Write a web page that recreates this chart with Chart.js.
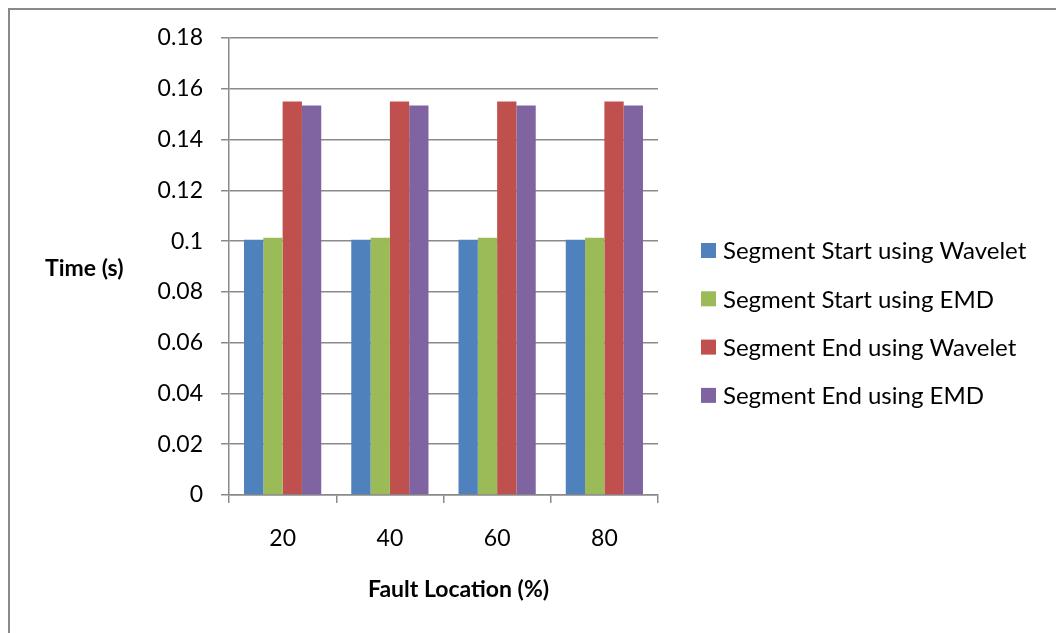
<!DOCTYPE html>
<html>
<head>
<meta charset="utf-8">
<script src="https://cdn.jsdelivr.net/npm/chart.js@4/dist/chart.umd.min.js"></script>
<style>
  html, body { margin: 0; padding: 0; background: #fff; overflow: hidden; }
  #wrap { position: relative; width: 1056px; height: 633px; }
  #frame { position: absolute; left: 8px; top: 8px; width: 1200px; height: 800px;
           border: 2px solid #898989; box-sizing: border-box; pointer-events: none; }
  canvas { position: absolute; left: 0; top: 0; }
</style>
</head>
<body>
<div id="wrap">
  <canvas id="c" width="1056" height="633"></canvas>
  <div id="frame"></div>
</div>
<script>
// Fault location categories (%)
const categories = ['20', '40', '60', '80'];

// Detected segment times (s) per fault location
const startWavelet = [0.1005, 0.1005, 0.1005, 0.1005];
const startEMD     = [0.1013, 0.1013, 0.1013, 0.1013];
const endWavelet   = [0.155, 0.155, 0.155, 0.155];
const endEMD       = [0.1534, 0.1534, 0.1534, 0.1534];

const seriesNames = [
  'Segment Start using Wavelet',
  'Segment Start using EMD',
  'Segment End using Wavelet',
  'Segment End using EMD'
];
const seriesColors = ['#4F81BD', '#9BBB59', '#C0504D', '#8064A2'];

// Value axis labels, bottom to top
const yTickLabels = ['0', '0.02', '0.04', '0.06', '0.08', '0.1', '0.12', '0.14', '0.16', '0.18'];

const xTitle = 'Fault Location (%)';
const yTitle = 'Time (s)';

const FONT = 'Lato, "Liberation Sans", sans-serif';
const GRID = '#8a8a8a';

// Axis titles and the legend, drawn beside the plot area
const sideText = {
  id: 'sideText',
  afterDraw(chart) {
    const ctx = chart.ctx;
    const a = chart.chartArea;
    ctx.save();
    ctx.fillStyle = '#000';
    ctx.textBaseline = 'middle';

    ctx.font = 'bold 23px ' + FONT;
    ctx.textAlign = 'left';
    ctx.fillText(yTitle, 45, (a.top + a.bottom) / 2 + 2);
    ctx.textAlign = 'center';
    ctx.fillText(xTitle, (a.left + a.right) / 2 + 15, 590);

    ctx.font = '24px ' + FONT;
    ctx.textAlign = 'left';
    const lx = a.right + 43;
    chart.data.datasets.forEach((ds, i) => {
      const cy = 250.5 + i * 48.3;
      ctx.fillStyle = ds.backgroundColor;
      ctx.fillRect(lx, cy - 7.5, 15, 15);
      ctx.fillStyle = '#000';
      ctx.fillText(ds.label, lx + 22, cy + 1);
    });
    ctx.restore();
  }
};

const seriesData = [startWavelet, startEMD, endWavelet, endEMD];

new Chart(document.getElementById('c'), {
  type: 'bar',
  data: {
    labels: categories,
    datasets: seriesData.map((d, i) => ({
      label: seriesNames[i],
      data: d,
      backgroundColor: seriesColors[i],
      borderWidth: 0,
      categoryPercentage: 0.72,
      barPercentage: 1.0
    }))
  },
  options: {
    responsive: false,
    animation: false,
    devicePixelRatio: 1,
    layout: { padding: { left: 0, top: 38, right: 398, bottom: 0 } },
    plugins: {
      legend: { display: false },
      tooltip: { enabled: false },
      title: { display: false }
    },
    scales: {
      x: {
        grid: {
          display: true,
          offset: true,
          drawOnChartArea: false,
          drawTicks: true,
          tickLength: 8,
          color: GRID,
          lineWidth: 1.5
        },
        border: { display: true, color: GRID, width: 1.5 },
        ticks: {
          color: '#000',
          font: { family: FONT, size: 23 },
          padding: 22,
          maxRotation: 0,
          autoSkip: false
        },
        afterFit(scale) { scale.height = 138; }
      },
      y: {
        min: 0,
        max: 0.18,
        grid: {
          color: GRID,
          lineWidth: 1.5,
          drawTicks: true,
          tickLength: 8
        },
        border: { display: true, color: GRID, width: 1.5 },
        ticks: {
          stepSize: 0.02,
          color: '#000',
          font: { family: FONT, size: 23 },
          padding: 18,
          callback: (v, i) => yTickLabels[i]
        },
        afterFit(scale) { scale.width = 229; }
      }
    }
  },
  plugins: [sideText]
});
</script>
</body>
</html>
